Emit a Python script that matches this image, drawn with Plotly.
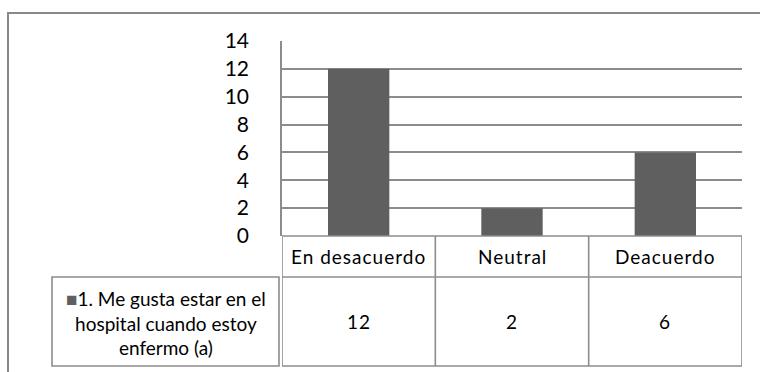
import plotly.graph_objects as go

# Survey responses for item 1
categories = ["En desacuerdo", "Neutral", "Deacuerdo"]
values = [12, 2, 6]
series_name = "1. Me gusta estar en el<br>hospital cuando estoy<br>enfermo (a)"
y_ticks = [0, 2, 4, 6, 8, 10, 12, 14]

W, H = 760, 372
ML, MR, MT, MB = 282, 18, 41, 136
PW, PH = W - ML - MR, H - MT - MB

BAR = "#5f5f5f"
LINE = "#8c8c8c"
FONT = "Lato"


def px(xp):
    return (xp - ML) / PW


def py(yp):
    return (H - MB - yp) / PH


def spaced(s):
    return f"<span style='letter-spacing:1px'>{s}</span>"


fig = go.Figure(go.Bar(x=categories, y=values, marker=dict(color=BAR, line=dict(width=0)),
                       name=series_name, showlegend=False, hoverinfo="x+y"))

shapes = []
annotations = []

# outer chart frame (extends beyond the visible page)
shapes.append(dict(type="rect", xref="paper", yref="paper", x0=px(8), y0=py(13), x1=px(790), y1=py(400),
                   line=dict(color="#888888", width=2), layer="below"))

# data table below the plot: rows for category names and values
header_bottom = 277
table_bottom = 366
n = len(categories)
for i in range(n + 1):
    shapes.append(dict(type="line", xref="x", yref="paper", x0=i - 0.5, x1=i - 0.5,
                       y0=py(H - MB), y1=py(table_bottom), line=dict(color=LINE, width=1.6)))
for yline in (H - MB, header_bottom, table_bottom):
    shapes.append(dict(type="line", xref="x", yref="paper", x0=-0.5, x1=n - 0.5,
                       y0=py(yline), y1=py(yline), line=dict(color=LINE, width=1.6)))
# series label cell
shapes.append(dict(type="rect", xref="paper", yref="paper", x0=px(52), x1=px(279),
                   y0=py(header_bottom), y1=py(table_bottom), line=dict(color=LINE, width=1.6)))

cell_font = dict(family=FONT, size=19, color="#000")
for cat, val in zip(categories, values):
    annotations.append(dict(x=cat, xref="x", y=py((H - MB + header_bottom) / 2), yref="paper",
                            text=spaced(cat), showarrow=False, font=cell_font,
                            xanchor="center", yanchor="middle"))
    annotations.append(dict(x=cat, xref="x", y=py((header_bottom + table_bottom) / 2), yref="paper",
                            text=spaced(str(val)), showarrow=False, font=cell_font,
                            xanchor="center", yanchor="middle"))

annotations.append(dict(x=px((52 + 279) / 2), xref="paper", y=py((header_bottom + table_bottom) / 2 + 1),
                        yref="paper",
                        text=f"<span style='color:{BAR}'>■</span>" + series_name,
                        showarrow=False, align="center", font=cell_font,
                        xanchor="center", yanchor="middle"))

fig.update_layout(
    width=W, height=H,
    margin=dict(l=ML, r=MR, t=MT, b=MB),
    paper_bgcolor="white", plot_bgcolor="white",
    bargap=0.6,
    shapes=shapes, annotations=annotations,
    xaxis=dict(type="category", range=[-0.5, n - 0.5], showticklabels=False, showgrid=False,
               zeroline=False, showline=False, fixedrange=True),
    yaxis=dict(range=[0, 14], tickvals=y_ticks, ticktext=[str(t) for t in y_ticks],
               showgrid=True, gridcolor=LINE, gridwidth=1.5,
               showline=True, linecolor=LINE, linewidth=1.5,
               zeroline=False, ticks="", ticklabelstandoff=27,
               tickfont=dict(family=FONT, size=21, color="#000"), fixedrange=True),
    font=dict(family=FONT),
)

fig.write_html("out.html")
